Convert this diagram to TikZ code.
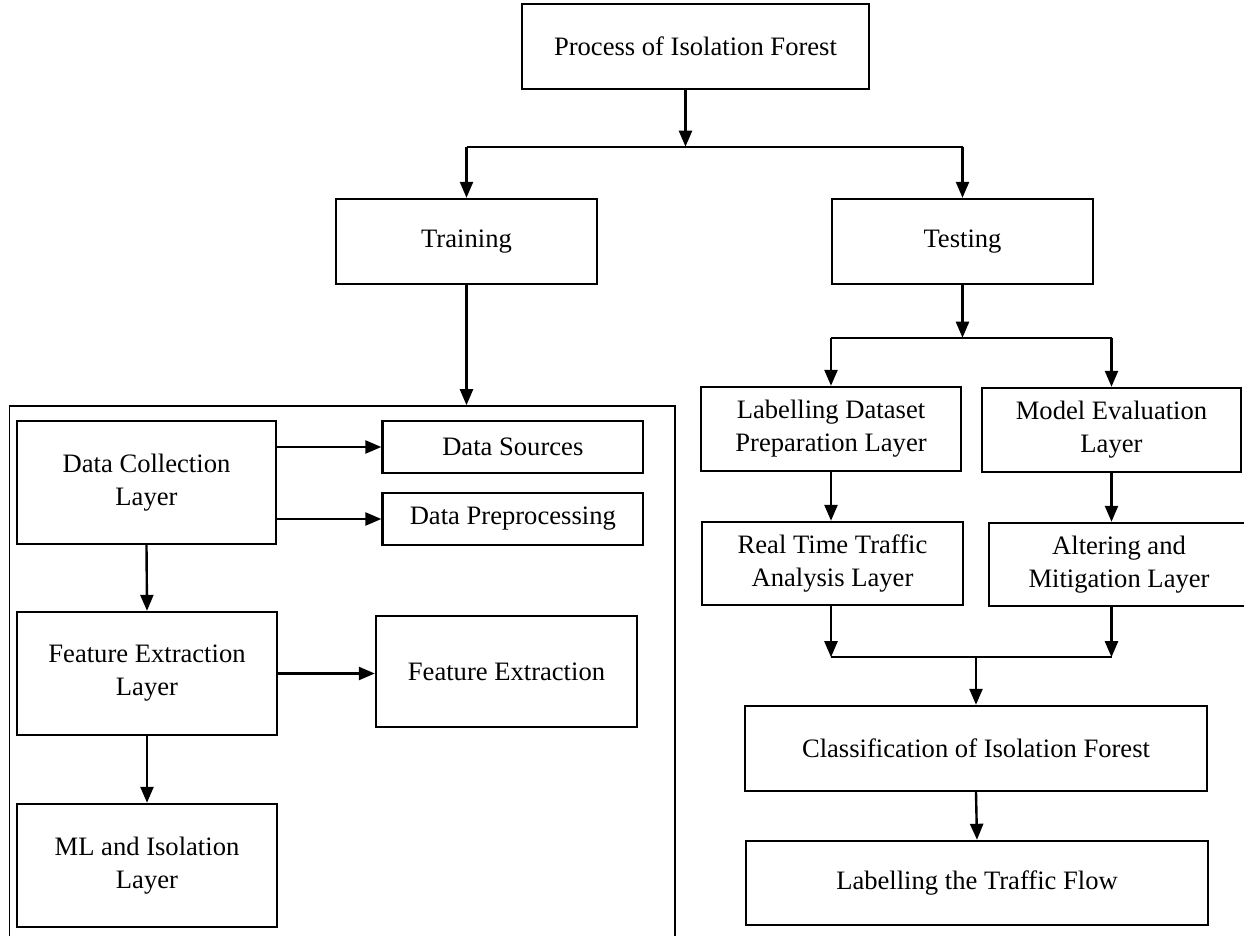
\documentclass[tikz,border=0pt]{standalone}
\usepackage{fontspec}
\setmainfont{Liberation Serif}
\usetikzlibrary{arrows.meta}
\begin{document}
\begin{tikzpicture}[
	box/.style={draw,line width=1.2pt,align=center,inner sep=0pt,font=\fontsize{13.3}{16.5}\selectfont},
	arr/.style={line width=1.2pt,-{Triangle[length=8pt,width=6.5pt]}},
	ln/.style={line width=1pt}]
	\useasboundingbox (0,0) rectangle (622pt,-468pt);
	%top
	\node[box,minimum width=173.5pt,minimum height=42.5pt] (top) at (347.75pt,-23.25pt) {Process of Isolation Forest};
	\node[box,minimum width=130.5pt,minimum height=42.5pt] (train) at (233.25pt,-120.75pt) {Training};
	\node[box,minimum width=130.5pt,minimum height=42.5pt] (test) at (481.25pt,-120.75pt) {Testing};
	\draw[arr] ([xshift=-5pt]top.south) -- ++(0,-28.25pt) coordinate (j1);
	\draw[ln] (train.north |- j1) -- (test.north |- j1);
	\draw[arr] (train.north |- j1) -- (train.north);
	\draw[arr] (test.north |- j1) -- (test.north);
	%training frame
	\node[draw,line width=0.8pt,inner sep=0pt,minimum width=332.75pt,minimum height=272pt] (frame) at (171.125pt,-339pt) {};
	\draw[arr] (train.south) -- (train.south |- frame.north);
	\node[box,minimum width=129.5pt,minimum height=61.5pt] (dcl) at (73.25pt,-241.25pt) {Data Collection\\Layer};
	\node[box,minimum width=130.25pt,minimum height=26pt] (dsrc) at (256.4pt,-223.5pt) {Data Sources};
	\node[box,minimum width=130.25pt,minimum height=26pt] (dpre) at (256.4pt,-259.5pt) {Data Preprocessing};
	\node[box,minimum width=130pt,minimum height=61.5pt] (fel) at (73.5pt,-336.75pt) {Feature Extraction\\Layer};
	\node[box,minimum width=130.5pt,minimum height=55.5pt] (fex) at (253.25pt,-335.75pt) {Feature Extraction};
	\node[box,minimum width=130pt,minimum height=61.5pt] (mli) at (73.5pt,-432.75pt) {ML and Isolation\\Layer};
	\draw[arr] (dcl.east |- dsrc.west) -- (dsrc.west);
	\draw[arr] (dcl.east |- dpre.west) -- (dpre.west);
	\draw[arr] (dcl.south) -- (fel.north);
	\draw[arr] (fel.east) -- (fel.east -| fex.west);
	\draw[arr] (fel.south) -- (mli.north);
	%testing
	\node[box,minimum width=130pt,minimum height=42pt] (ldp) at (415.5pt,-214.5pt) {Labelling Dataset\\Preparation Layer};
	\node[box,minimum width=129.5pt,minimum height=42pt] (mev) at (555.75pt,-215pt) {Model Evaluation\\Layer};
	\node[box,minimum width=130.5pt,minimum height=41.5pt] (rta) at (416.25pt,-281.75pt) {Real Time Traffic\\Analysis Layer};
	\node[box,minimum width=130pt,minimum height=41.5pt] (alt) at (559.5pt,-282.25pt) {Altering and\\Mitigation Layer};
	\draw[arr] (test.south) -- ++(0,-26.25pt) coordinate (j2);
	\draw[ln] (ldp.north |- j2) -- (mev.north |- j2);
	\draw[arr] (ldp.north |- j2) -- (ldp.north);
	\draw[arr] (mev.north |- j2) -- (mev.north);
	\draw[arr] (ldp.south) -- (ldp.south |- rta.north);
	\draw[arr] (mev.south) -- (mev.south |- alt.north);
	%merge
	\node[box,minimum width=231pt,minimum height=42.5pt] (cls) at (488pt,-374.25pt) {Classification of Isolation Forest};
	\node[box,minimum width=231pt,minimum height=42pt] (ltf) at (488.5pt,-441.5pt) {Labelling the Traffic Flow};
	\draw[arr] (ldp.south |- rta.south) -- ++(0,-25.5pt) coordinate (j3);
	\draw[arr] (mev.south |- alt.south) -- (mev.south |- j3);
	\draw[ln] (j3) -- (mev.south |- j3);
	\draw[arr] (cls.north |- j3) -- (cls.north);
	\draw[arr] (cls.south) -- (ltf.north);
\end{tikzpicture}
\end{document}
